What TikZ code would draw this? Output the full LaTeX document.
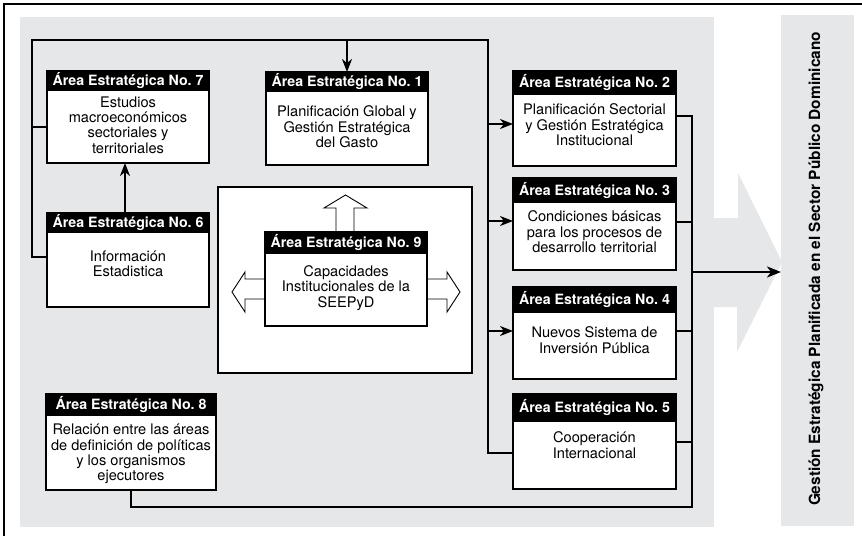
\documentclass[tikz,border=0pt]{standalone}
\usepackage{fontspec}
\setmainfont{TeX Gyre Heros}
\usetikzlibrary{arrows.meta,calc}
\definecolor{panelgrey}{RGB}{230,231,232}

% one strategic-area box: name, x1, y1, x2, y of header bottom, y2, number, y of text centre, text
\newcommand\areabox[9]{%
  \node[boxbody,minimum width={#4pt-#2pt},minimum height={#6pt-#3pt}] (#1) at (#2,#3) {};
  \node[boxhead,minimum width={#4pt-#2pt},minimum height={#5pt-#3pt}] (#1h) at (#2,#3) {Área Estratégica No.~#7};
  \node[boxtext] (#1t) at ({(#2+#4)/2},#8) {#9};
}

\begin{document}
\begin{tikzpicture}[x=1pt,y=-1pt,
  boxbody/.style={draw=black,line width=2.1pt,fill=white,rectangle,inner sep=0pt,outer sep=0pt,anchor=north west},
  boxhead/.style={fill=black,text=white,rectangle,inner sep=0pt,outer sep=0pt,anchor=north west,
    font=\bfseries\fontsize{14.2}{15}\selectfont},
  boxtext/.style={align=center,inner sep=0pt,font=\fontsize{14.6}{15.4}\selectfont},
  link/.style={line width=1.9pt},
  arr/.style={line width=1.9pt,-{Stealth[length=13pt,width=10pt,inset=4pt]}},
  hollow/.style={draw=black,fill=white,line width=0.9pt,line join=miter},
]
\useasboundingbox (0,0) rectangle (862,536);
\fill[white] (0,0) rectangle (862,536);

% page frame
\draw[line width=1.2pt] (862,4) -- (4,4) -- (4,536);

% grey working panel and the broad arrow leaving it
\fill[panelgrey] (20,17) rectangle (714,527);
\fill[panelgrey] (714,218) -- (738,218) -- (738,173) -- (782,262) -- (737,352) -- (737,307) -- (714,307) -- cycle;

% result strip
\node[fill=panelgrey,rectangle,inner sep=0pt,outer sep=0pt,anchor=north west,
      minimum width=73pt,minimum height=511pt] (strip) at (781,15) {};
\node[rotate=90,inner sep=0pt,font=\bfseries\fontsize{15.4}{16}\selectfont] (striptext) at (816,269)
  {Gestión Estratégica Planificada en el Sector Público Dominicano};

% white frame round area 9
\node[draw=black,line width=2.1pt,fill=white,rectangle,inner sep=0pt,outer sep=0pt,anchor=north west,
      minimum width=254pt,minimum height=186pt] (frame9) at (218,187) {};

% hollow arrows radiating from area 9
\draw[hollow] (336,233) -- (336,208) -- (324,208) -- (345.5,195) -- (367,208) -- (354,208) -- (354,233);
\draw[hollow] (266,279) -- (245,279) -- (245,272) -- (232,292) -- (245,312) -- (245,299) -- (266,299);
\draw[hollow] (426,279) -- (447,279) -- (447,272) -- (460,292) -- (447,312) -- (447,299) -- (426,299);

% bus points
\coordinate (busTL) at (32,40);
\coordinate (busTR) at (488,40);
\coordinate (colT) at (692,116);
\coordinate (colB) at (692,507);
\coordinate (out) at (692,272);

% boxes
\areabox{a7}{47}{71}{209}{91}{163}{7}{125}{Estudios\\macroeconómicos\\sectoriales y\\territoriales}
\areabox{a1}{266}{72}{428}{92}{165}{1}{127}{Planificación Global y\\Gestión Estratégica\\del Gasto}
\areabox{a6}{47}{213}{209}{233}{307}{6}{264}{Información\\Estadistica}
\areabox{a9}{265}{232}{427}{254}{326}{9}{288}{Capacidades\\Institucionales de la\\SEEPyD}
\areabox{a2}{513}{71}{676}{95}{166}{2}{125}{Planificación Sectorial\\y Gestión Estratégica\\Institucional}
\areabox{a3}{513}{178}{676}{203}{270}{3}{232}{Condiciones básicas\\para los procesos de\\desarrollo territorial}
\areabox{a4}{513}{287}{676}{313}{379}{4}{340}{Nuevos Sistema de\\Inversión Pública}
\areabox{a5}{513}{394}{676}{422}{489}{5}{445}{Cooperación\\Internacional}
\areabox{a8}{46}{394}{216}{416}{490}{8}{454}{Relación entre las áreas\\de definición de políticas\\y los organismos\\ejecutores}

% feeding bus from the top
\draw[link] (a6.west |- 0,257) -| (busTL) -- (busTR) |- (a5.west |- 0,453);
\draw[link] (a7.west |- 0,127) -- (busTL |- 0,127);
\draw[arr] (a1.north |- busTL) -- (a1.north);
\draw[arr] (busTR |- 0,124) -- (a2.west |- 0,124);
\draw[arr] (busTR |- 0,221) -- (a3.west |- 0,221);
\draw[arr] (busTR |- 0,331) -- (a4.west |- 0,331);
\draw[arr] (a6.north -| 125,0) -- (a7.south -| 125,0);

% collecting bus on the right
\draw[link] (a2.east |- colT) -- (colT) -- (colB) -| (a8.south -| 131,0);
\draw[link] (a3.east |- 0,222) -- (colT |- 0,222);
\draw[link] (a4.east |- 0,331) -- (colT |- 0,331);
\draw[link] (a5.east |- 0,442) -- (colT |- 0,442);
\draw[line width=1.9pt,-{Stealth[length=14pt,width=11pt,inset=4pt]}] (out) -- (strip.west |- out);

% box outlines over connector ends
\foreach \b in {a7,a1,a6,a9,a2,a3,a4,a5,a8}
  \draw[line width=2.1pt] (\b.north west) rectangle (\b.south east);
\end{tikzpicture}
\end{document}
